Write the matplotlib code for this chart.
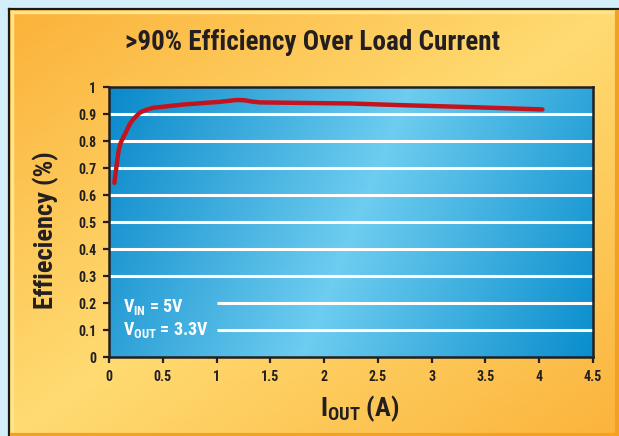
#!/usr/bin/env python3
"""Efficiency vs. load current chart on an orange card with a blue plot area."""

import numpy as np
import matplotlib.pyplot as plt
from matplotlib.colors import LinearSegmentedColormap

iout_a = [0.05, 0.058, 0.065, 0.077, 0.09, 0.11, 0.135, 0.16, 0.19, 0.22, 0.26,
          0.29, 0.35, 0.41, 0.55, 0.69, 0.85, 1.03, 1.12, 1.19, 1.26, 1.33, 1.40,
          1.80, 2.24, 2.70, 3.40, 4.03]
efficiency = [0.645, 0.672, 0.693, 0.73, 0.765, 0.795, 0.815, 0.835, 0.86, 0.878,
              0.895, 0.906, 0.916, 0.923, 0.929, 0.935, 0.940, 0.945, 0.949, 0.952,
              0.951, 0.946, 0.943, 0.941, 0.939, 0.933, 0.925, 0.917]

y_ticks = [0, 0.1, 0.2, 0.3, 0.4, 0.5, 0.6, 0.7, 0.8, 0.9, 1.0]
y_labels = ["0", "0.1", "0.2", "0.3", "0.4", "0.5", "0.6", "0.7", "0.8", "0.9", "1"]
x_ticks = [0, 0.5, 1, 1.5, 2, 2.5, 3, 3.5, 4, 4.5]
x_labels = ["0", "0.5", "1", "1.5", "2", "2.5", "3", "3.5", "4", "4.5"]
grid_full = [0.3, 0.4, 0.5, 0.6, 0.7, 0.8, 0.9]
grid_short = [0.1, 0.2]

FONT = ["Roboto Condensed", "DejaVu Sans"]
DARK = "#231f20"

plt.rcParams["font.family"] = FONT
plt.rcParams["font.weight"] = "bold"
plt.rcParams["mathtext.fontset"] = "custom"
plt.rcParams["mathtext.rm"] = "Roboto Condensed:bold"
plt.rcParams["mathtext.bf"] = "Roboto Condensed:bold"

W, H = 619, 436
fig = plt.figure(figsize=(W / 100, H / 100), dpi=100)
fig.patch.set_facecolor("#d5effa")

# card background
bg = fig.add_axes([0, 0, 1, 1], zorder=-10)
bg.set_xlim(0, W)
bg.set_ylim(H, 0)
bg.axis("off")
orange = LinearSegmentedColormap.from_list("o", ["#fbb23a", "#ffdb72", "#fbb43c"])
xx, yy = np.meshgrid(np.linspace(0, 1, 300), np.linspace(0, 1, 220))
bg.imshow((xx + yy) / 2, cmap=orange, extent=(9, W, H, 9), aspect="auto",
          interpolation="bilinear")
bg.plot([9, W], [9, 9], color="#1a1a1a", lw=1.6)
bg.plot([9, 9], [9, H], color="#1a1a1a", lw=1.6)
bg.plot([12, W], [12, 12], color="#ffe48c", lw=2.5)
bg.plot([12, 12], [12, H], color="#ffe48c", lw=2.5)
bg.plot([617, 617], [12, H], color="#f4a020", lw=3)
bg.plot([12, W], [434.5, 434.5], color="#f4a020", lw=3)

# plot area
ax = fig.add_axes([109 / W, 1 - 357 / H, 484 / W, 270 / H])
blue = LinearSegmentedColormap.from_list("b", ["#0a89ca", "#6ecdf0", "#0a8ecd"])
gx, gy = np.meshgrid(np.linspace(0, 4.5, 300), np.linspace(0, 1, 120))
s = gx - gy * 1.0
t = np.where(s < 1.8, (s + 1.0) / 2.8 * 0.5, 0.5 + (s - 1.8) / 2.7 * 0.5)
ax.imshow(t, cmap=blue, extent=(0, 4.5, 0, 1), origin="lower", aspect="auto",
          interpolation="bilinear", vmin=0, vmax=1, zorder=0)

ax.hlines(grid_full, 0, 4.5, color="white", lw=2.2, zorder=1)
ax.hlines(grid_short, 1.0, 4.5, color="white", lw=2.2, zorder=1)

ax.plot(iout_a, efficiency, color="#c3141e", lw=3.2, solid_capstyle="round",
        solid_joinstyle="round", zorder=3)

ax.set_xlim(0, 4.5)
ax.set_ylim(0, 1)
ax.set_xticks(x_ticks)
ax.set_xticklabels(x_labels)
ax.set_yticks(y_ticks)
ax.set_yticklabels(y_labels)
ax.tick_params(direction="out", length=4, width=1.6, color=DARK, labelcolor=DARK,
               labelsize=10, pad=5)
for sp in ax.spines.values():
    sp.set_color(DARK)
    sp.set_linewidth(1.8)

ax.text(0.13, 0.185, r"$\mathrm{V_{IN}}$ = 5V", color="white", fontsize=13,
        va="center", ha="left", fontweight=800)
ax.text(0.13, 0.10, r"$\mathrm{V_{OUT}}$ = 3.3V", color="white", fontsize=13,
        va="center", ha="left", fontweight=800)

fig.text(312 / W, 1 - 43 / H, ">90% Efficiency Over Load Current", ha="center",
         va="center", fontsize=19.5, color=DARK, fontweight=800)
fig.text(46 / W, 1 - 230 / H, "Effieciency (%)", ha="center", va="center",
         rotation=90, fontsize=19, color=DARK, fontweight=800)
fig.text(360 / W, 1 - 409 / H, r"$\mathrm{I_{OUT}}$ (A)", ha="center", va="center",
         fontsize=19, color=DARK, fontweight=800)

fig.savefig("out.png", dpi=100, facecolor=fig.get_facecolor())
